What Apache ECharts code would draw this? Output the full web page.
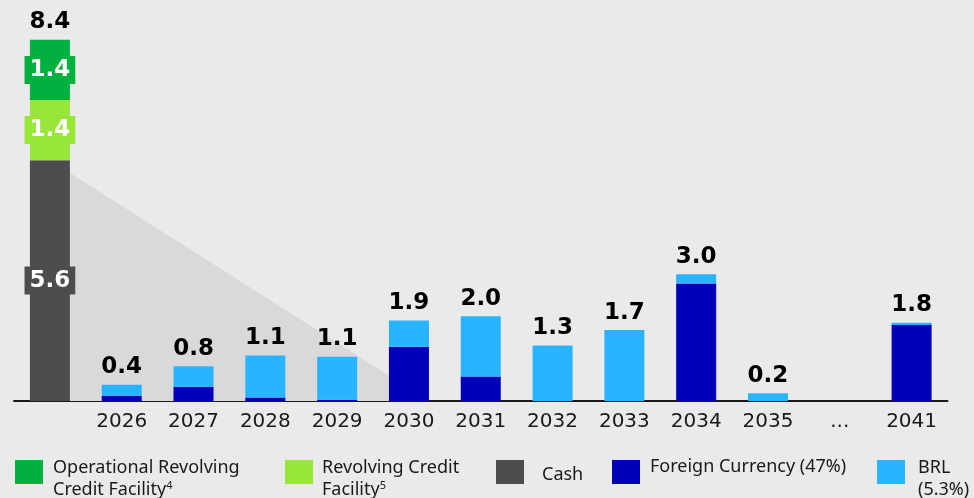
<!DOCTYPE html>
<html>
<head>
<meta charset="utf-8">
<script src="https://cdn.jsdelivr.net/npm/echarts@6/dist/echarts.min.js"></script>
<style>
  html, body { margin: 0; padding: 0; background: #eaeaea; }
  #chart { width: 974px; height: 498px; }
</style>
</head>
<body>
<div id="chart"></div>
<script>
// categories (first bar = liquidity, no label)
const categories = ['', '2026', '2027', '2028', '2029', '2030', '2031', '2032', '2033', '2034', '2035', '...', '2041'];

// liquidity bar
const cashData = [5.6, '-', '-', '-', '-', '-', '-', '-', '-', '-', '-', '-', '-'];
const revolvingData = [1.4, '-', '-', '-', '-', '-', '-', '-', '-', '-', '-', '-', '-'];
const operationalData = [1.4, '-', '-', '-', '-', '-', '-', '-', '-', '-', '-', '-', '-'];

// debt amortization
const foreignData = ['-', 0.12, 0.33, 0.08, 0.03, 1.26, 0.57, '-', '-', 2.73, '-', '-', 1.77];
const brlData = ['-', 0.26, 0.48, 0.98, 1.0, 0.61, 1.4, 1.29, 1.65, 0.22, 0.18, '-', 0.05];

// total labels shown on top
const totalLabels = ['8.4', '0.4', '0.8', '1.1', '1.1', '1.9', '2.0', '1.3', '1.7', '3.0', '0.2', '', '1.8'];

// shaded wedge from the cash bar down to the axis
const wedgeStart = [0, 5.3];
const wedgeEnd = [5, 0];

const colors = {
  operational: '#00b140',
  revolving: '#98e63a',
  cash: '#4d4d4f',
  foreign: '#0000b8',
  brl: '#28b4ff'
};

const chart = echarts.init(document.getElementById('chart'));

// top of every stack, for the total label
const totals = categories.map((c, i) => {
  let s = 0;
  [cashData, revolvingData, operationalData, foreignData, brlData].forEach(arr => {
    if (arr[i] !== '-') s += arr[i];
  });
  return s;
});

const innerLabel = (bg) => ({
  show: true,
  position: 'inside',
  color: '#fff',
  fontFamily: 'DejaVu Sans',
  fontWeight: 'bold',
  fontSize: 23,
  lineHeight: 24,
  padding: [2, 5],
  backgroundColor: bg
});

const legendText = {
  color: '#1a1a1a',
  fontFamily: 'Noto Sans',
  fontSize: 18,
  lineHeight: 22,
  rich: {
    sup: { fontFamily: 'Noto Sans', fontSize: 11, color: '#1a1a1a', padding: [0, 0, 8, 0] }
  }
};

const mkLegend = (name, left, top, padding, fmt) => ({
  data: [name],
  left: left,
  top: top,
  padding: 0,
  itemWidth: 28,
  itemHeight: 24,
  selectedMode: false,
  icon: 'rect',
  formatter: fmt,
  textStyle: Object.assign({}, legendText, { padding: padding })
});

let option = {
  backgroundColor: '#eaeaea',
  animation: false,
  grid: { left: 14, right: 26.5, top: 14, bottom: 97 },
  xAxis: {
    type: 'category',
    data: categories,
    axisLine: { lineStyle: { color: '#1a1a1a', width: 2 } },
    axisTick: { show: false },
    axisLabel: {
      color: '#1a1a1a',
      fontFamily: 'DejaVu Sans',
      fontSize: 20,
      margin: 11
    }
  },
  yAxis: {
    type: 'value',
    min: 0,
    max: 9,
    show: false,
    splitLine: { show: false }
  },
  legend: [
    mkLegend('Operational Revolving Credit Facility', 15, 443, [14, 0, 0, 5], () => 'Operational Revolving\nCredit Facility{sup|4}'),
    mkLegend('Revolving Credit Facility', 285, 443, [14, 0, 0, 4], () => 'Revolving Credit\nFacility{sup|5}'),
    mkLegend('Cash', 496, 458, [6, 0, 0, 13], '{name}'),
    mkLegend('Foreign Currency (47%)', 612, 456, [0, 0, 10, 5], '{name}'),
    mkLegend('BRL', 877, 443, [14, 0, 0, 8], () => 'BRL\n(5.3%)')
  ],
  series: [
    {
      type: 'custom',
      name: 'wedge',
      silent: true,
      z: 1,
      data: [[wedgeStart[0], wedgeStart[1], wedgeEnd[0], wedgeEnd[1]]],
      renderItem: function (params, api) {
        const half = 20;
        const p0 = api.coord([api.value(0), api.value(1)]);
        const b0 = api.coord([api.value(0), 0]);
        const p1 = api.coord([api.value(2), api.value(3)]);
        return {
          type: 'polygon',
          shape: { points: [[p0[0] + half, p0[1]], [b0[0] + half, b0[1]], [p1[0] + half, p1[1]]] },
          style: { fill: '#d9d9d9' }
        };
      }
    },
    {
      name: 'Foreign Currency (47%)', type: 'bar', stack: 'a', barWidth: 40, z: 2,
      itemStyle: { color: colors.foreign }, data: foreignData
    },
    {
      name: 'BRL', type: 'bar', stack: 'a', barWidth: 40, z: 2,
      itemStyle: { color: colors.brl }, data: brlData
    },
    {
      name: 'Cash', type: 'bar', stack: 'a', barWidth: 40, z: 2,
      itemStyle: { color: colors.cash }, data: cashData,
      label: innerLabel(colors.cash)
    },
    {
      name: 'Revolving Credit Facility', type: 'bar', stack: 'a', barWidth: 40, z: 2,
      itemStyle: { color: colors.revolving }, data: revolvingData,
      label: innerLabel(colors.revolving)
    },
    {
      name: 'Operational Revolving Credit Facility', type: 'bar', stack: 'a', barWidth: 40, z: 2,
      itemStyle: { color: colors.operational }, data: operationalData,
      label: innerLabel(colors.operational)
    },
    {
      type: 'scatter',
      name: 'total',
      symbolSize: 0,
      silent: true,
      z: 3,
      itemStyle: { opacity: 1 },
      data: totals.map((t, i) => [i, t]),
      label: {
        show: true,
        position: 'top',
        distance: 6,
        color: '#000',
        fontFamily: 'DejaVu Sans',
        fontWeight: 'bold',
        fontSize: 23,
        formatter: (p) => totalLabels[p.dataIndex]
      }
    }
  ]
};

chart.setOption(option);
</script>
</body>
</html>
